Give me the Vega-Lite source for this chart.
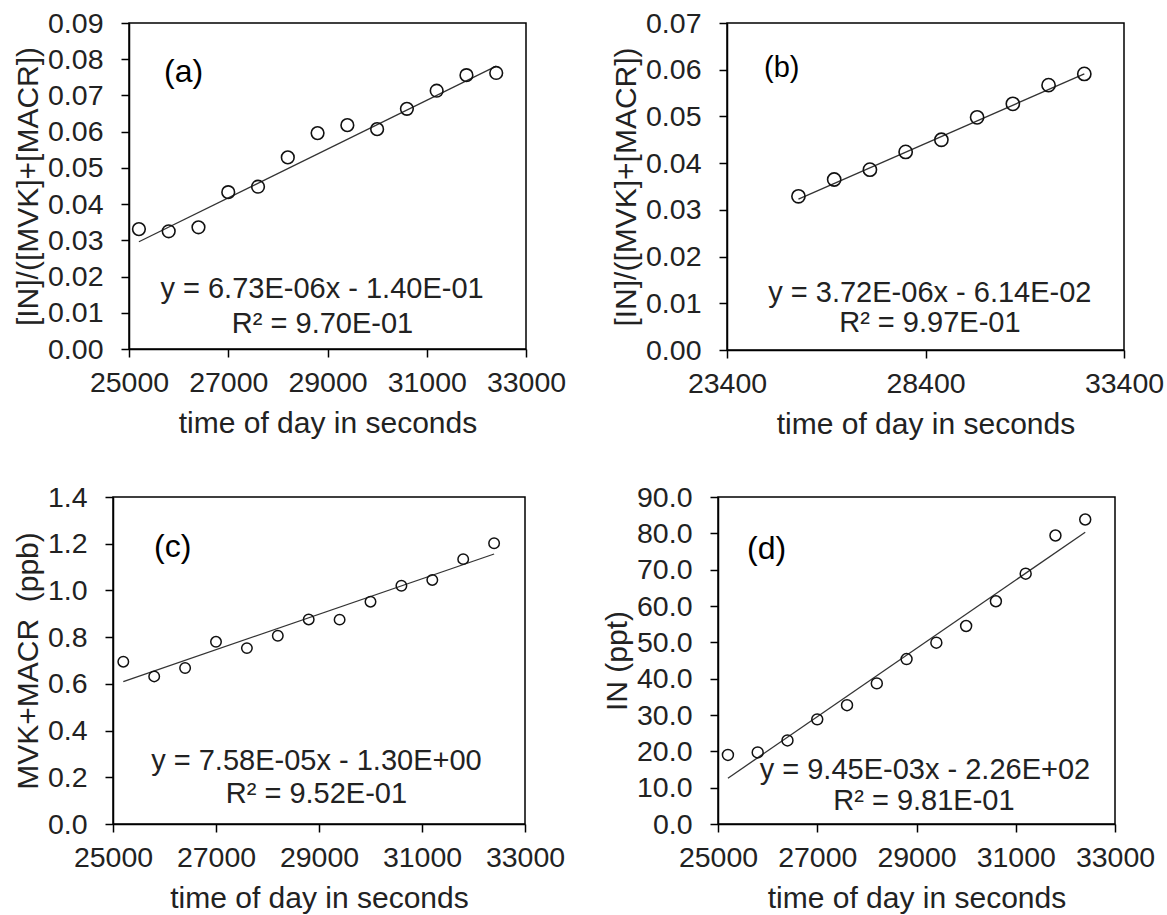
{
  "$schema": "https://vega.github.io/schema/vega-lite/v6.json",
  "background": "white",
  "padding": {"left": 11, "top": 8, "right": 0, "bottom": 0},
  "datasets": {
    "empty": [],
    "a_pts": [
      {"t": 25200, "v": 0.0331}, {"t": 25800, "v": 0.0325}, {"t": 26400, "v": 0.0336}, {"t": 27000, "v": 0.0433},
      {"t": 27600, "v": 0.0448}, {"t": 28200, "v": 0.0529}, {"t": 28800, "v": 0.0596}, {"t": 29400, "v": 0.0618},
      {"t": 30000, "v": 0.0607}, {"t": 30600, "v": 0.0663}, {"t": 31200, "v": 0.0713}, {"t": 31800, "v": 0.0756},
      {"t": 32400, "v": 0.0762}
    ],
    "a_fit": [{"t": 25200, "v": 0.0296}, {"t": 32400, "v": 0.0781}],
    "a_let": [{"t": 26100, "v": 0.0766, "label": "(a)"}],
    "a_eq": [{"t": 28890, "v": 0.0166, "label": "y = 6.73E-06x - 1.40E-01"}, {"t": 28900, "v": 0.0069, "label": "R² = 9.70E-01"}],
    "b_pts": [
      {"t": 25200, "v": 0.0329}, {"t": 26100, "v": 0.0365}, {"t": 27000, "v": 0.0386}, {"t": 27900, "v": 0.0424},
      {"t": 28800, "v": 0.0450}, {"t": 29700, "v": 0.0498}, {"t": 30600, "v": 0.0527}, {"t": 31500, "v": 0.0567},
      {"t": 32400, "v": 0.0591}
    ],
    "b_fit": [{"t": 25200, "v": 0.0323}, {"t": 32400, "v": 0.0591}],
    "b_let": [{"t": 24780, "v": 0.0604, "label": "(b)"}],
    "b_eq": [{"t": 28510, "v": 0.0122, "label": "y = 3.72E-06x - 6.14E-02"}, {"t": 28510, "v": 0.0058, "label": "R² = 9.97E-01"}],
    "c_pts": [
      {"t": 25200, "v": 0.695}, {"t": 25800, "v": 0.632}, {"t": 26400, "v": 0.668}, {"t": 27000, "v": 0.780},
      {"t": 27600, "v": 0.753}, {"t": 28200, "v": 0.806}, {"t": 28800, "v": 0.876}, {"t": 29400, "v": 0.875},
      {"t": 30000, "v": 0.952}, {"t": 30600, "v": 1.020}, {"t": 31200, "v": 1.045}, {"t": 31800, "v": 1.134},
      {"t": 32400, "v": 1.202}
    ],
    "c_fit": [{"t": 25200, "v": 0.610}, {"t": 32400, "v": 1.156}],
    "c_let": [{"t": 26160, "v": 1.184, "label": "(c)"}],
    "c_eq": [{"t": 28950, "v": 0.271, "label": "y = 7.58E-05x - 1.30E+00"}, {"t": 28950, "v": 0.128, "label": "R² = 9.52E-01"}],
    "d_pts": [
      {"t": 25200, "v": 19.0}, {"t": 25800, "v": 19.7}, {"t": 26400, "v": 23.0}, {"t": 27000, "v": 28.8},
      {"t": 27600, "v": 32.7}, {"t": 28200, "v": 38.7}, {"t": 28800, "v": 45.4}, {"t": 29400, "v": 49.9},
      {"t": 30000, "v": 54.5}, {"t": 30600, "v": 61.3}, {"t": 31200, "v": 68.9}, {"t": 31800, "v": 79.4},
      {"t": 32400, "v": 83.8}
    ],
    "d_fit": [{"t": 25200, "v": 12.6}, {"t": 32400, "v": 80.3}],
    "d_let": [{"t": 25980, "v": 75.7, "label": "(d)"}],
    "d_eq": [{"t": 29170, "v": 14.9, "label": "y = 9.45E-03x - 2.26E+02"}, {"t": 29150, "v": 6.2, "label": "R² = 9.81E-01"}]
  },
  "vconcat": [
    {
      "spacing": 0,
      "hconcat": [
        {"width": 1, "height": 1, "data": {"name": "empty"}, "mark": {"type": "point", "opacity": 0}, "view": {"stroke": null}},
        {
          "width": 397, "height": 326,
          "encoding": {
            "x": {"field": "t", "type": "quantitative", "scale": {"domain": [25000, 33000], "nice": false, "zero": false},
                  "axis": {"values": [25000, 27000, 29000, 31000, 33000], "format": "d", "title": "time of day in seconds"}},
            "y": {"field": "v", "type": "quantitative", "scale": {"domain": [0, 0.09], "nice": false},
                  "axis": {"values": [0, 0.01, 0.02, 0.03, 0.04, 0.05, 0.06, 0.07, 0.08, 0.09], "format": ".2f", "title": "[IN]/([MVK]+[MACR])"}}
          },
          "layer": [
            {"data": {"name": "a_fit"}, "mark": {"type": "line", "color": "#333", "strokeWidth": 1.3}},
            {"data": {"name": "a_pts"}, "mark": {"type": "point", "shape": "circle", "filled": false, "size": 160, "stroke": "#111", "strokeWidth": 1.6, "opacity": 1}},
            {"data": {"name": "a_let"}, "mark": {"type": "text", "fontSize": 32, "color": "#000"}, "encoding": {"text": {"field": "label"}}},
            {"data": {"name": "a_eq"}, "mark": {"type": "text", "fontSize": 29, "color": "#222"}, "encoding": {"text": {"field": "label"}}}
          ]
        },
        {"width": 43, "height": 1, "data": {"name": "empty"}, "mark": {"type": "point", "opacity": 0}, "view": {"stroke": null}},
        {
          "width": 397, "height": 327,
          "encoding": {
            "x": {"field": "t", "type": "quantitative", "scale": {"domain": [23400, 33400], "nice": false, "zero": false},
                  "axis": {"values": [23400, 28400, 33400], "format": "d", "title": "time of day in seconds"}},
            "y": {"field": "v", "type": "quantitative", "scale": {"domain": [0, 0.07], "nice": false},
                  "axis": {"values": [0, 0.01, 0.02, 0.03, 0.04, 0.05, 0.06, 0.07], "format": ".2f", "title": "[IN]/([MVK]+[MACR])"}}
          },
          "layer": [
            {"data": {"name": "b_fit"}, "mark": {"type": "line", "color": "#333", "strokeWidth": 1.3}},
            {"data": {"name": "b_pts"}, "mark": {"type": "point", "shape": "circle", "filled": false, "size": 175, "stroke": "#111", "strokeWidth": 1.6, "opacity": 1}},
            {"data": {"name": "b_let"}, "mark": {"type": "text", "fontSize": 29, "color": "#000"}, "encoding": {"text": {"field": "label"}}},
            {"data": {"name": "b_eq"}, "mark": {"type": "text", "fontSize": 29, "color": "#222"}, "encoding": {"text": {"field": "label"}}}
          ]
        }
      ]
    },
    {
      "spacing": 0,
      "hconcat": [
        {"width": 1, "height": 1, "data": {"name": "empty"}, "mark": {"type": "point", "opacity": 0}, "view": {"stroke": null}},
        {
          "width": 412, "height": 327,
          "encoding": {
            "x": {"field": "t", "type": "quantitative", "scale": {"domain": [25000, 33000], "nice": false, "zero": false},
                  "axis": {"values": [25000, 27000, 29000, 31000, 33000], "format": "d", "title": "time of day in seconds"}},
            "y": {"field": "v", "type": "quantitative", "scale": {"domain": [0, 1.4], "nice": false},
                  "axis": {"values": [0, 0.2, 0.4, 0.6, 0.8, 1.0, 1.2, 1.4], "format": ".1f", "title": "MVK+MACR\u00a0 (ppb)"}}
          },
          "layer": [
            {"data": {"name": "c_fit"}, "mark": {"type": "line", "color": "#333", "strokeWidth": 1.3}},
            {"data": {"name": "c_pts"}, "mark": {"type": "point", "shape": "circle", "filled": false, "size": 110, "stroke": "#111", "strokeWidth": 1.5, "opacity": 1}},
            {"data": {"name": "c_let"}, "mark": {"type": "text", "fontSize": 32, "color": "#000"}, "encoding": {"text": {"field": "label"}}},
            {"data": {"name": "c_eq"}, "mark": {"type": "text", "fontSize": 29, "color": "#222"}, "encoding": {"text": {"field": "label"}}}
          ]
        },
        {"width": 35, "height": 1, "data": {"name": "empty"}, "mark": {"type": "point", "opacity": 0}, "view": {"stroke": null}},
        {
          "width": 397, "height": 327,
          "encoding": {
            "x": {"field": "t", "type": "quantitative", "scale": {"domain": [25000, 33000], "nice": false, "zero": false},
                  "axis": {"values": [25000, 27000, 29000, 31000, 33000], "format": "d", "title": "time of day in seconds"}},
            "y": {"field": "v", "type": "quantitative", "scale": {"domain": [0, 90], "nice": false},
                  "axis": {"values": [0, 10, 20, 30, 40, 50, 60, 70, 80, 90], "format": ".1f", "title": "IN (ppt)"}}
          },
          "layer": [
            {"data": {"name": "d_fit"}, "mark": {"type": "line", "color": "#333", "strokeWidth": 1.3}},
            {"data": {"name": "d_pts"}, "mark": {"type": "point", "shape": "circle", "filled": false, "size": 120, "stroke": "#111", "strokeWidth": 1.5, "opacity": 1}},
            {"data": {"name": "d_let"}, "mark": {"type": "text", "fontSize": 32, "color": "#000"}, "encoding": {"text": {"field": "label"}}},
            {"data": {"name": "d_eq"}, "mark": {"type": "text", "fontSize": 29, "color": "#222"}, "encoding": {"text": {"field": "label"}}}
          ]
        }
      ]
    }
  ],
  "spacing": 41,
  "config": {
    "font": "Liberation Sans",
    "view": {"stroke": "#000", "strokeWidth": 1.5},
    "axis": {
      "grid": false,
      "domain": true,
      "domainColor": "#000",
      "domainWidth": 1.5,
      "tickColor": "#000",
      "tickWidth": 1.5,
      "tickSize": 8,
      "labelFont": "Liberation Sans",
      "labelFontSize": 28.5,
      "labelColor": "#222",
      "labelFlush": false,
      "labelOverlap": false,
      "titleFont": "Liberation Sans",
      "titleFontSize": 30,
      "titleFontWeight": "normal",
      "titleColor": "#222"
    },
    "axisX": {"labelPadding": 11, "titlePadding": 12},
    "axisY": {"labelPadding": 18, "titlePadding": 4}
  }
}
